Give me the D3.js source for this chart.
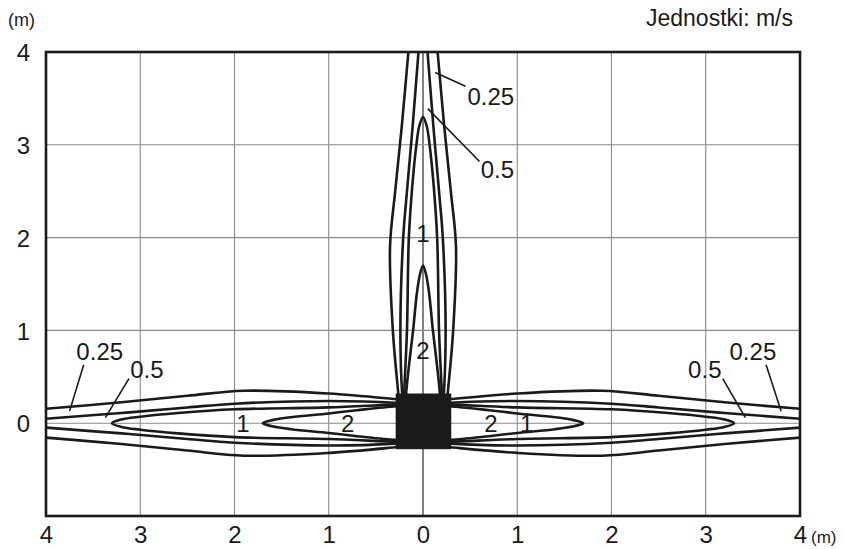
<!DOCTYPE html>
<html>
<head>
<meta charset="utf-8">
<script src="https://cdn.jsdelivr.net/npm/d3@7"></script>
<style>
	body { margin: 0; background: #fff; }
	svg text { font-family: "Liberation Sans", Arial, sans-serif; fill: #1a1a1a; }
</style>
</head>
<body>
<svg class="chart" width="845" height="549"></svg>
<script>
// axis ticks (m)
var xTicks = [-4, -3, -2, -1, 0, 1, 2, 3, 4];
var yTicks = [0, 1, 2, 3, 4];
var xGrid = [-3, -2, -1, 0, 1, 2, 3];
var yGrid = [0, 1, 2, 3];

// diffuser body (m)
var bodyX = [-0.29, 0.3];
var bodyY = [-0.28, 0.32];

// isovel profiles: [distance from centre along jet, half width], m
var iso025 = [[0.2, 0.25], [0.3, 0.26], [1.0, 0.32], [1.9, 0.35], [2.5, 0.295], [3.2, 0.225], [4.0, 0.155], [4.6, 0.1]];
var iso05 = [[0.2, 0.21], [0.3, 0.22], [1.0, 0.24], [2.0, 0.21], [2.5, 0.17], [3.2, 0.11], [4.0, 0.048], [4.6, 0.0]];
var iso1 = [[0.2, 0.2], [0.3, 0.2], [1.0, 0.17], [2.0, 0.15], [2.6, 0.11], [3.0, 0.07], [3.2, 0.04], [3.3, 0]];
var iso2 = [[0.2, 0.18], [0.3, 0.18], [0.7, 0.14], [1.0, 0.105], [1.4, 0.065], [1.6, 0.033], [1.7, 0]];
var jets = ["up", "left", "right"];

// labels on the isovels
var inLabels = [
	{ text: "1", x: 0, y: 2.05 }, { text: "2", x: 0, y: 0.79 },
	{ text: "1", x: -1.91, y: 0 }, { text: "2", x: -0.8, y: 0 },
	{ text: "2", x: 0.72, y: 0 }, { text: "1", x: 1.1, y: 0 }
];
var leaderLabels = [
	{ text: "0.25", x: 0.72, y: 3.52, from: [0.13, 3.78], to: [0.45, 3.63] },
	{ text: "0.5", x: 0.79, y: 2.74, from: [0.05, 3.39], to: [0.6, 2.82] },
	{ text: "0.25", x: -3.43, y: 0.77, from: [-3.6, 0.63], to: [-3.75, 0.13] },
	{ text: "0.5", x: -2.93, y: 0.58, from: [-3.12, 0.48], to: [-3.37, 0.06] },
	{ text: "0.5", x: 2.99, y: 0.58, from: [3.18, 0.48], to: [3.42, 0.06] },
	{ text: "0.25", x: 3.5, y: 0.77, from: [3.64, 0.63], to: [3.8, 0.13] }
];

var svg = d3.select(".chart");
var x = d3.scaleLinear().domain([-4, 4]).range([46, 800]);
var y = d3.scaleLinear().domain([-1, 4]).range([516, 52]);

svg.append("defs").append("clipPath").attr("id", "plot")
	.append("rect")
	.attr("x", x(-4)).attr("y", y(4))
	.attr("width", x(4) - x(-4)).attr("height", y(-1) - y(4));

// grid
svg.append("g").selectAll("line").data(xGrid).enter().append("line")
	.attr("x1", function (d) { return x(d); }).attr("x2", function (d) { return x(d); })
	.attr("y1", y(4)).attr("y2", y(-1))
	.attr("stroke", function (d) { return d == 0 ? "#1a1a1a" : "#8a8a8a"; })
	.attr("stroke-width", 1.1);

svg.append("g").selectAll("line").data(yGrid).enter().append("line")
	.attr("y1", function (d) { return y(d); }).attr("y2", function (d) { return y(d); })
	.attr("x1", x(-4)).attr("x2", x(4))
	.attr("stroke", "#8a8a8a")
	.attr("stroke-width", 1.1);

// turn a profile into points for one jet direction
function place(dir, d, h) {
	if (dir == "up") return [h, d];
	if (dir == "left") return [-d, h];
	return [d, h];
}

var line = d3.line()
	.x(function (p) { return x(p[0]); })
	.y(function (p) { return y(p[1]); })
	.curve(d3.curveCatmullRom.alpha(0.5));

var contours = svg.append("g").attr("clip-path", "url(#plot)")
	.attr("fill", "none").attr("stroke", "#1a1a1a")
	.attr("stroke-width", 2.6).attr("stroke-linejoin", "round");

jets.forEach(function (dir) {
	// open isovels, both sides
	[iso025, iso05].forEach(function (prof) {
		[1, -1].forEach(function (s) {
			contours.append("path")
				.attr("d", line(prof.map(function (p) { return place(dir, p[0], s * p[1]); })));
		});
	});
	// closed isovels
	[iso1, iso2].forEach(function (prof) {
		var pts = prof.map(function (p) { return place(dir, p[0], p[1]); });
		prof.slice(0, -1).reverse().forEach(function (p) { pts.push(place(dir, p[0], -p[1])); });
		contours.append("path").attr("d", line(pts));
	});
});

// diffuser
svg.append("rect")
	.attr("x", x(bodyX[0])).attr("y", y(bodyY[1]))
	.attr("width", x(bodyX[1]) - x(bodyX[0]))
	.attr("height", y(bodyY[0]) - y(bodyY[1]))
	.attr("fill", "#1a1a1a");

// frame
svg.append("rect")
	.attr("x", x(-4)).attr("y", y(4))
	.attr("width", x(4) - x(-4)).attr("height", y(-1) - y(4))
	.attr("fill", "none").attr("stroke", "#1a1a1a").attr("stroke-width", 2.6);

// axes
var xAxis = svg.append("g").attr("transform", "translate(0,526)")
	.call(d3.axisBottom(x).tickValues(xTicks).tickSize(0).tickPadding(0)
		.tickFormat(function (d) { return Math.abs(d); }));
var yAxis = svg.append("g").attr("transform", "translate(30,0)")
	.call(d3.axisLeft(y).tickValues(yTicks).tickSize(0).tickPadding(0)
		.tickFormat(d3.format("d")));
[xAxis, yAxis].forEach(function (a) {
	a.select(".domain").remove();
	a.selectAll("text").attr("font-size", 24).attr("font-family", null).attr("fill", "#1a1a1a");
});
yAxis.selectAll("text").attr("dy", "0.36em");
xAxis.selectAll("text").attr("dy", "0.72em");

svg.append("text").attr("x", 8).attr("y", 26).attr("font-size", 18).text("(m)");
svg.append("text").attr("x", 811).attr("y", 543).attr("font-size", 17).text("(m)");
svg.append("text").attr("x", 793).attr("y", 26).attr("font-size", 23)
	.attr("text-anchor", "end").text("Jednostki: m/s");

// isovel labels
svg.append("g").selectAll("text").data(inLabels).enter().append("text")
	.attr("x", function (d) { return x(d.x); })
	.attr("y", function (d) { return y(d.y); })
	.attr("dy", "0.36em").attr("text-anchor", "middle").attr("font-size", 24)
	.text(function (d) { return d.text; });

var lead = svg.append("g");
lead.selectAll("line").data(leaderLabels).enter().append("line")
	.attr("x1", function (d) { return x(d.from[0]); })
	.attr("y1", function (d) { return y(d.from[1]); })
	.attr("x2", function (d) { return x(d.to[0]); })
	.attr("y2", function (d) { return y(d.to[1]); })
	.attr("stroke", "#1a1a1a").attr("stroke-width", 1.6);
lead.selectAll("text").data(leaderLabels).enter().append("text")
	.attr("x", function (d) { return x(d.x); })
	.attr("y", function (d) { return y(d.y); })
	.attr("dy", "0.36em").attr("text-anchor", "middle").attr("font-size", 24)
	.text(function (d) { return d.text; });
</script>
</body>
</html>
